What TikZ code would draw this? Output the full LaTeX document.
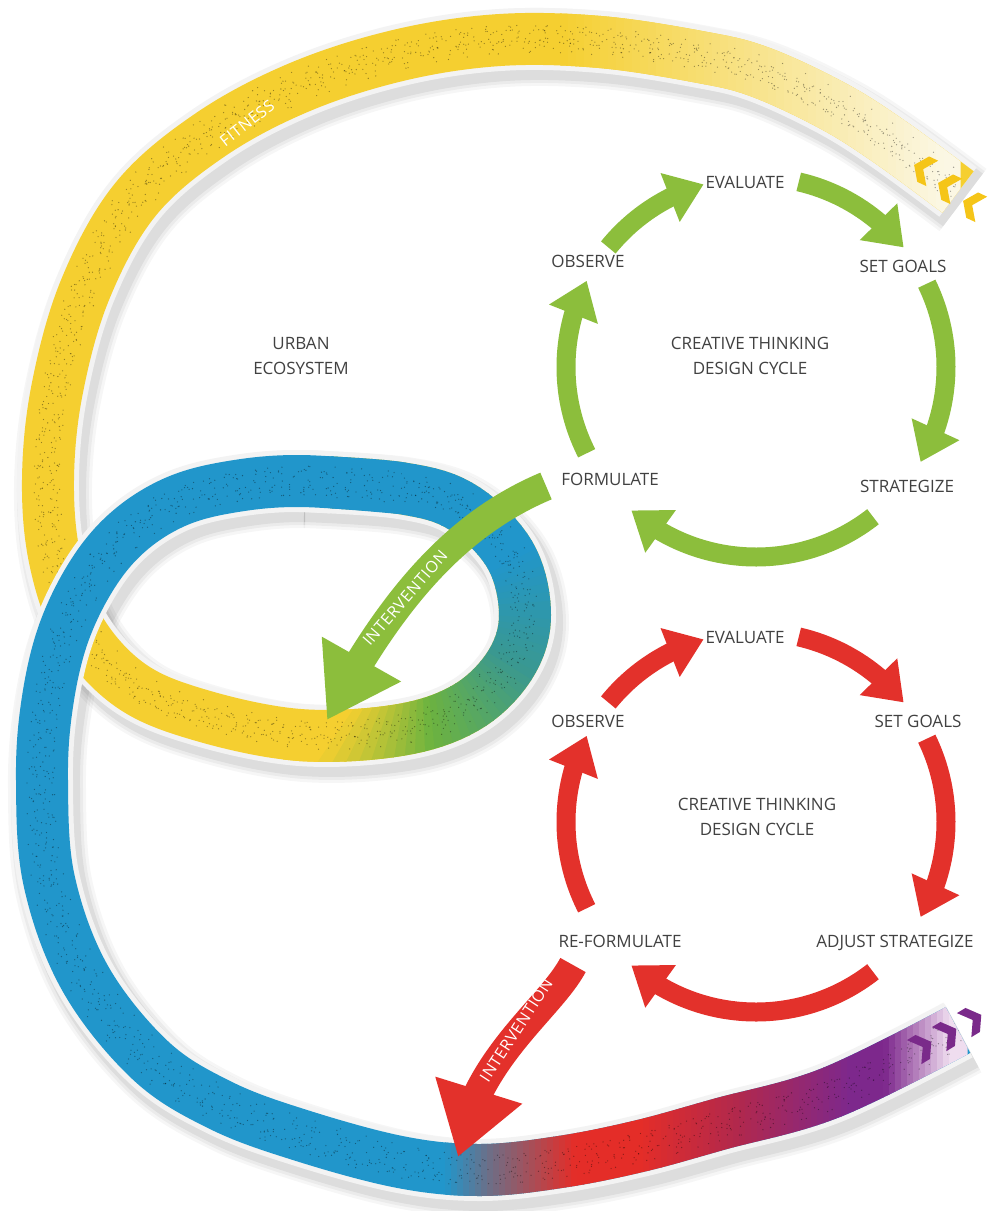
\documentclass[tikz,border=0pt]{standalone}
\usepackage{fontspec}
\setmainfont{Open Sans}
\usetikzlibrary{arrows.meta,bending}
\definecolor{ylw}{HTML}{F5CF30}
\definecolor{pal}{HTML}{FBF7E4}
\definecolor{grn}{HTML}{6DB33F}
\definecolor{tea}{HTML}{3A9890}
\definecolor{blu}{HTML}{2196CB}
\definecolor{gry}{HTML}{6E6E86}
\definecolor{redr}{HTML}{E42D28}
\definecolor{crm}{HTML}{B0284E}
\definecolor{pur}{HTML}{7D288C}
\definecolor{ppal}{HTML}{EFDDEF}
\definecolor{agrn}{HTML}{8CBE3C}
\definecolor{ared}{HTML}{E3312B}
\definecolor{txt}{HTML}{414141}
\definecolor{bord}{HTML}{F3F3F3}
\definecolor{chy}{HTML}{F5C518}
\definecolor{chp}{HTML}{7A2A8A}
\colorlet{tmpc}{ylw}
\newcommand\rbRamp[5]{\pgfmathsetmacro\rbP{max(0,min(100,((#1)-(#2))/((#3)-(#2))*100))}\colorlet{tmpc}{#5!\rbP!#4}}
\newcommand\rbLoopCol[1]{%
  \ifdim #1pt>125pt \colorlet{tmpc}{ylw}%
  \else\ifdim #1pt>85pt \rbRamp{#1}{125}{85}{ylw}{grn}%
  \else\ifdim #1pt>30pt \rbRamp{#1}{85}{30}{grn}{tea}%
  \else\ifdim #1pt>-30pt \rbRamp{#1}{30}{-30}{tea}{blu}%
  \else \colorlet{tmpc}{blu}\fi\fi\fi\fi}
\newcommand\rbBotCol[1]{%
  \ifdim #1pt<445pt \colorlet{tmpc}{blu}%
  \else\ifdim #1pt<490pt \rbRamp{#1}{445}{490}{blu}{gry}%
  \else\ifdim #1pt<575pt \rbRamp{#1}{490}{575}{gry}{redr}%
  \else\ifdim #1pt<640pt \colorlet{tmpc}{redr}%
  \else\ifdim #1pt<740pt \rbRamp{#1}{640}{740}{redr}{crm}%
  \else\ifdim #1pt<850pt \rbRamp{#1}{740}{850}{crm}{pur}%
  \else\ifdim #1pt<885pt \colorlet{tmpc}{pur}%
  \else \rbRamp{#1}{885}{950}{pur}{ppal}\fi\fi\fi\fi\fi\fi\fi}
\newcommand\rbPathA{plot[smooth,tension=.6] coordinates {(958,192) (890,142) (833,106) (760,72) (700,57) (600,42) (500,40) (400,55) (300,87) (210,135) (135,200) (85,290) (57,390) (48,480) (55,560) (80,630) (130,685) (200,715) (300,735) (400,730) (467,707) (510,665) (525,615) (510,555) (462,507) (400,488) (300,481)}}
\newcommand\rbPathB{plot[smooth,tension=.6] coordinates {(400,488) (300,481) (230,487) (175,502) (128,532) (92,575) (63,635) (47,705) (42,780) (49,880) (85,978) (150,1060) (220,1105) (300,1135) (400,1162) (480,1170) (560,1162) (640,1146) (720,1124) (830,1093) (958,1030)}}
\newcommand\clipB[1]{\clip (-50,-50) -- (1100,-50) -- (1100,420) -- (#1,420) -- (#1,560) -- (1100,560) -- (1100,1300) -- (-50,1300) -- cycle;}
\newcommand\specks[1]{%
  \foreach \i in {1,...,26}{%
    \pgfmathsetmacro\dx{rnd*30-15}\pgfmathsetmacro\dy{rnd*30-15}%
    \pgfmathsetmacro\g{22+rnd*26}\pgfmathsetmacro\ph{rnd*40}%
    \draw[black,opacity=.38,line width=1.3pt,line cap=round,dash pattern=on 0pt off \g pt,dash phase=\ph pt,shift={(\dx,\dy)}] #1;}}
\newcommand\drawCyc[2]{%
  \foreach \s/\e in {-141/-106,-77/-39,-26/30,52/131,153/207}{%
    \draw[#2,cyca] (#1) ++(\s:190) arc[start angle=\s,end angle=\e,radius=190];}}
\newcommand\chev[4]{\fill[#4,shift={(#1,#2)},rotate=#3] (-8pt,14pt) -- (2pt,14pt) -- (12pt,0pt) -- (2pt,-14pt) -- (-8pt,-14pt) -- (2pt,0pt) -- cycle;}
\tikzset{
  bordr/.style={draw=bord,line width=62pt},
  ribw/.style={line width=52pt},
  lbl/.style={text=txt,font=\fontsize{17}{25}\selectfont,inner sep=0pt,align=center},
  ilbl/.style={text=white,font=\fontsize{16}{18}\selectfont\addfontfeatures{LetterSpace=4},inner sep=0pt},
  cyca/.style={line width=19pt,-{Triangle[width=50pt,length=36pt]}},
  intv/.style={line width=29pt,-{Triangle[width=86pt,length=70pt]}},
}
\begin{document}
\begin{tikzpicture}[x=1pt,y=-1pt]
\pgfmathsetseed{11}
\fill[white] (0,0) rectangle (992,1211);
\useasboundingbox (0,0) rectangle (992,1211);
% shadows
\foreach \w/\o in {78/.035,72/.045,66/.06}{
  \draw[black,opacity=\o,line width=\w pt,shift={(5,8)}] \rbPathA;
  \begin{scope}
    \clipB{305}
    \draw[black,opacity=\o,line width=\w pt,shift={(5,8)}] \rbPathB;
  \end{scope}
}
% ---------- ribbon part A
\draw[bordr] \rbPathA;
\draw[ylw,ribw] \rbPathA;
\foreach \x in {560,568,...,952}{
  \pgfmathsetmacro\pp{max(0,min(100,(\x+4-560)/3.85))}
  \colorlet{tmpc}{pal!\pp!ylw}
  \begin{scope}
    \clip (\x,0) rectangle (\x+8.6,430);
    \draw[tmpc,ribw] \rbPathA;
  \end{scope}}
\coordinate (lc) at (420,610);
\foreach \t in {-140,-136,...,128}{
  \pgfmathsetmacro\tc{\t+2}
  \rbLoopCol{\tc}
  \begin{scope}
    \clip (lc) -- ++(\t:260) arc[start angle=\t,end angle=\t+4.6,radius=260] -- cycle;
    \draw[tmpc,ribw] \rbPathA;
  \end{scope}}
\begin{scope}
  \clip (-50,-50) -- (1166,-50) -- (900,260) -- (1050,260) -- (1050,1300) -- (-50,1300) -- cycle;
  \specks{\rbPathA}
\end{scope}
% ---------- ribbon part B
\begin{scope}
  \clipB{330}
  \draw[bordr] \rbPathB;
\end{scope}
\draw[blu,ribw] \rbPathB;
\foreach \x in {445,451,...,961}{
  \pgfmathsetmacro\xc{\x+3}
  \rbBotCol{\xc}
  \begin{scope}
    \clip (\x,880) rectangle (\x+6.6,1211);
    \draw[tmpc,ribw] \rbPathB;
  \end{scope}}
\begin{scope}
  \clip (-50,-50) -- (1050,-50) -- (1050,960) -- (916,960) -- (1121,1300) -- (-50,1300) -- cycle;
  \specks{\rbPathB}
\end{scope}
% chevrons
\chev{925}{170}{155}{chy}
\chev{949}{188}{155}{chy}
\chev{974}{206}{155}{chy}
\chev{921}{1048}{31}{chp}
\chev{946}{1035}{31}{chp}
\chev{971}{1021}{31}{chp}
% cycles
\coordinate (gC) at (756,367);
\coordinate (rC) at (756,822);
\drawCyc{gC}{agrn}
\drawCyc{rC}{ared}
% interventions
\coordinate (giS) at (546,486);
\coordinate (giT) at (327,720);
\draw[agrn,intv] (giS) .. controls (463,521) and (395,590) .. (giT);
\coordinate (riS) at (573,965);
\coordinate (riT) at (458,1157);
\draw[ared,intv] (riS) .. controls (549,1010) and (472,1060) .. (riT);
% labels
\node[lbl] (urb) at (301,356) {URBAN\\ECOSYSTEM};
\node[lbl] (gEv) at (745,182) {EVALUATE};
\node[lbl] (gOb) at (588,261) {OBSERVE};
\node[lbl] (gSg) at (903,266) {SET GOALS};
\node[lbl] (gCt) at (750,356) {CREATIVE THINKING\\DESIGN CYCLE};
\node[lbl] (gFo) at (610,479) {FORMULATE};
\node[lbl] (gSt) at (907,486) {STRATEGIZE};
\node[lbl] (rEv) at (745,637) {EVALUATE};
\node[lbl] (rOb) at (588,721) {OBSERVE};
\node[lbl] (rSg) at (918,721) {SET GOALS};
\node[lbl] (rCt) at (757,817) {CREATIVE THINKING\\DESIGN CYCLE};
\node[lbl] (rFo) at (620,941) {RE-FORMULATE};
\node[lbl] (rSt) at (895,943) {ADJUST STRATEGIZE};
\node[ilbl,rotate=38] (fit) at (247,123) {FITNESS};
\node[ilbl,rotate=49] (gIt) at (405,598) {INTERVENTION};
\node[ilbl,rotate=57] (rIt) at (516,1030) {INTERVENTION};
\end{tikzpicture}
\end{document}
